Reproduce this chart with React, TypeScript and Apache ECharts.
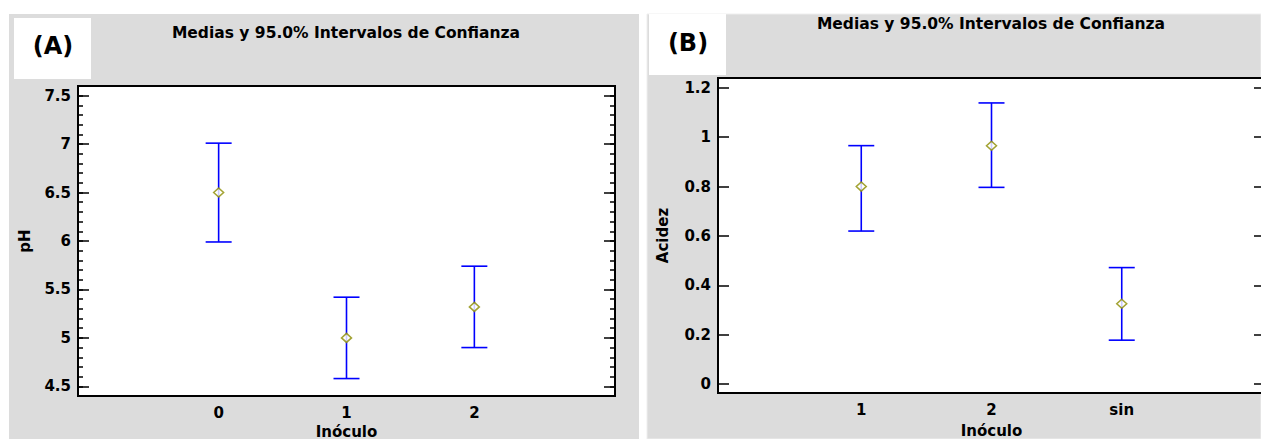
import React, { useEffect, useRef } from "react";
import * as echarts from "echarts";

const catsA = ["0", "1", "2"];
const meanA = [6.5, 5.0, 5.32];
const lowA = [5.99, 4.58, 4.9];
const highA = [7.01, 5.42, 5.74];

const catsB = ["1", "2", "sin"];
const meanB = [0.8, 0.966, 0.326];
const lowB = [0.62, 0.797, 0.178];
const highB = [0.966, 1.139, 0.472];

const yTicksA = [4.5, 5, 5.5, 6, 6.5, 7, 7.5];
const yMinorA = [
  4.5, 4.6, 4.7, 4.8, 4.9, 5, 5.1, 5.2, 5.3, 5.4, 5.5, 5.6, 5.7, 5.8, 5.9, 6, 6.1, 6.2, 6.3, 6.4, 6.5, 6.6,
  6.7, 6.8, 6.9, 7, 7.1, 7.2, 7.3, 7.4, 7.5,
];
const yTicksB = [0, 0.2, 0.4, 0.6, 0.8, 1, 1.2];
const xPositions = [0, 1, 2];

const FONT = "'DejaVu Sans', 'Liberation Sans', Arial, sans-serif";

function errorRender() {
  return (params: any, api: any) => {
    const x = api.value(0);
    const lo = api.coord([x, api.value(1)]);
    const hi = api.coord([x, api.value(2)]);
    const half = 13;
    const style = { stroke: "#0000FF", lineWidth: 1.6 };
    return {
      type: "group",
      children: [
        { type: "line", shape: { x1: lo[0], y1: lo[1], x2: hi[0], y2: hi[1] }, style },
        { type: "line", shape: { x1: lo[0] - half, y1: lo[1], x2: lo[0] + half, y2: lo[1] }, style },
        { type: "line", shape: { x1: hi[0] - half, y1: hi[1], x2: hi[0] + half, y2: hi[1] }, style },
      ],
    };
  };
}

export default function App() {
  const ref = useRef<HTMLDivElement>(null);
  useEffect(() => {
    if (!ref.current) return;
    const chart = echarts.init(ref.current, null, { renderer: "svg" });
    const labelStyle = { fontFamily: FONT, fontWeight: "bold" as const, fontSize: 15, color: "#000" };
    const makeX = (grid: number, cats: string[], gap: number) => ({
      type: "value",
      gridIndex: grid,
      min: -1.1,
      max: 3.1,
      axisLine: { show: false, onZero: false },
      axisTick: { show: false },
      splitLine: { show: false },
      axisLabel: {
        ...labelStyle,
        margin: 9,
        lineHeight: 15,
        customValues: xPositions,
        formatter: (v: number) => cats[Math.round(v)] ?? "",
      },
      name: "Inóculo",
      nameLocation: "middle",
      nameGap: gap,
      nameMoveOverlap: false,
      nameTextStyle: { ...labelStyle, fontSize: 15, lineHeight: 15 },
    });
    const yBase = (grid: number, min: number, max: number) => ({
      type: "value",
      gridIndex: grid,
      min,
      max,
      axisLine: { show: false, onZero: false },
      splitLine: { show: false },
    });
    const titleStyle = {
      text: "Medias y 95.0% Intervalos de Confianza",
      fontFamily: FONT,
      fontWeight: "bold",
      fontSize: 15.5,
      fill: "#000",
      align: "center",
      verticalAlign: "middle",
    };
    const tagStyle = { fontFamily: FONT, fontWeight: "bold", fontSize: 24, fill: "#000", align: "center", verticalAlign: "middle" };
    const option: any = {
      animation: false,
      backgroundColor: "#ffffff",
      graphic: [
        { type: "rect", shape: { x: 9, y: 14, width: 630, height: 425 }, style: { fill: "#DCDCDC" }, z: -10 },
        {
          type: "rect",
          shape: { x: 647, y: 14, width: 614, height: 425 },
          style: { fill: "#DCDCDC", stroke: "#EEEEEE", lineWidth: 1 },
          z: -10,
        },
        { type: "rect", shape: { x: 14, y: 18, width: 77, height: 61 }, style: { fill: "#ffffff" }, z: -5 },
        { type: "rect", shape: { x: 649, y: 14, width: 77, height: 61 }, style: { fill: "#ffffff" }, z: -5 },
        { type: "text", x: 53, y: 46, style: { ...tagStyle, text: "(A)" } },
        { type: "text", x: 688, y: 43, style: { ...tagStyle, text: "(B)" } },
        { type: "text", x: 346, y: 33, style: { ...titleStyle } },
        { type: "text", x: 991, y: 24, style: { ...titleStyle } },
      ],
      grid: [
        {
          left: 78,
          top: 86,
          width: 537,
          height: 310,
          show: true,
          backgroundColor: "#ffffff",
          borderColor: "#000",
          borderWidth: 2,
          containLabel: false,
          outerBoundsMode: "none",
        },
        {
          left: 718,
          top: 78,
          width: 547,
          height: 315,
          show: true,
          backgroundColor: "#ffffff",
          borderColor: "#000",
          borderWidth: 2,
          containLabel: false,
          outerBoundsMode: "none",
        },
      ],
      xAxis: [makeX(0, catsA, 28), makeX(1, catsB, 30)],
      yAxis: [
        {
          ...yBase(0, 4.4, 7.6),
          position: "left",
          axisTick: { show: true, inside: true, length: 11, customValues: yTicksA, lineStyle: { color: "#000", width: 1.5 } },
          axisLabel: { ...labelStyle, margin: 7, customValues: yTicksA },
          name: "pH",
          nameLocation: "middle",
          nameGap: 46,
          nameTextStyle: { ...labelStyle, fontSize: 15 },
        },
        {
          ...yBase(0, 4.4, 7.6),
          position: "left",
          axisTick: { show: true, inside: true, length: 5, customValues: yMinorA, lineStyle: { color: "#000", width: 1.5 } },
          axisLabel: { show: false },
        },
        {
          ...yBase(0, 4.4, 7.6),
          position: "right",
          axisTick: { show: true, inside: true, length: 11, customValues: yTicksA, lineStyle: { color: "#000", width: 1.5 } },
          axisLabel: { show: false },
        },
        {
          ...yBase(0, 4.4, 7.6),
          position: "right",
          axisTick: { show: true, inside: true, length: 5, customValues: yMinorA, lineStyle: { color: "#000", width: 1.5 } },
          axisLabel: { show: false },
        },
        {
          ...yBase(1, -0.036, 1.24),
          position: "left",
          axisTick: { show: true, inside: true, length: 11, customValues: yTicksB, lineStyle: { color: "#000", width: 1.5 } },
          axisLabel: { ...labelStyle, margin: 7, customValues: yTicksB },
          name: "Acidez",
          nameLocation: "middle",
          nameGap: 48,
          nameTextStyle: { ...labelStyle, fontSize: 15 },
        },
        {
          ...yBase(1, -0.036, 1.24),
          position: "right",
          axisTick: { show: true, inside: true, length: 11, customValues: yTicksB, lineStyle: { color: "#000", width: 1.5 } },
          axisLabel: { show: false },
        },
      ],
      series: [
        {
          type: "custom",
          xAxisIndex: 0,
          yAxisIndex: 0,
          renderItem: errorRender(),
          data: xPositions.map((x, i) => [x, lowA[i], highA[i]]),
          z: 2,
        },
        {
          type: "scatter",
          xAxisIndex: 0,
          yAxisIndex: 0,
          symbol: "diamond",
          symbolSize: [10, 9],
          itemStyle: { color: "#ffffff", borderColor: "#8C8C00", borderWidth: 1.5 },
          data: xPositions.map((x, i) => [x, meanA[i]]),
          z: 3,
        },
        {
          type: "custom",
          xAxisIndex: 1,
          yAxisIndex: 4,
          renderItem: errorRender(),
          data: xPositions.map((x, i) => [x, lowB[i], highB[i]]),
          z: 2,
        },
        {
          type: "scatter",
          xAxisIndex: 1,
          yAxisIndex: 4,
          symbol: "diamond",
          symbolSize: [10, 9],
          itemStyle: { color: "#ffffff", borderColor: "#8C8C00", borderWidth: 1.5 },
          data: xPositions.map((x, i) => [x, meanB[i]]),
          z: 3,
        },
      ],
    };
    chart.setOption(option);
    return () => chart.dispose();
  }, []);
  return (
    <div
      ref={ref}
      style={{ position: "absolute", left: 0, top: 0, width: 1261, height: 439 }}
    />
  );
}
